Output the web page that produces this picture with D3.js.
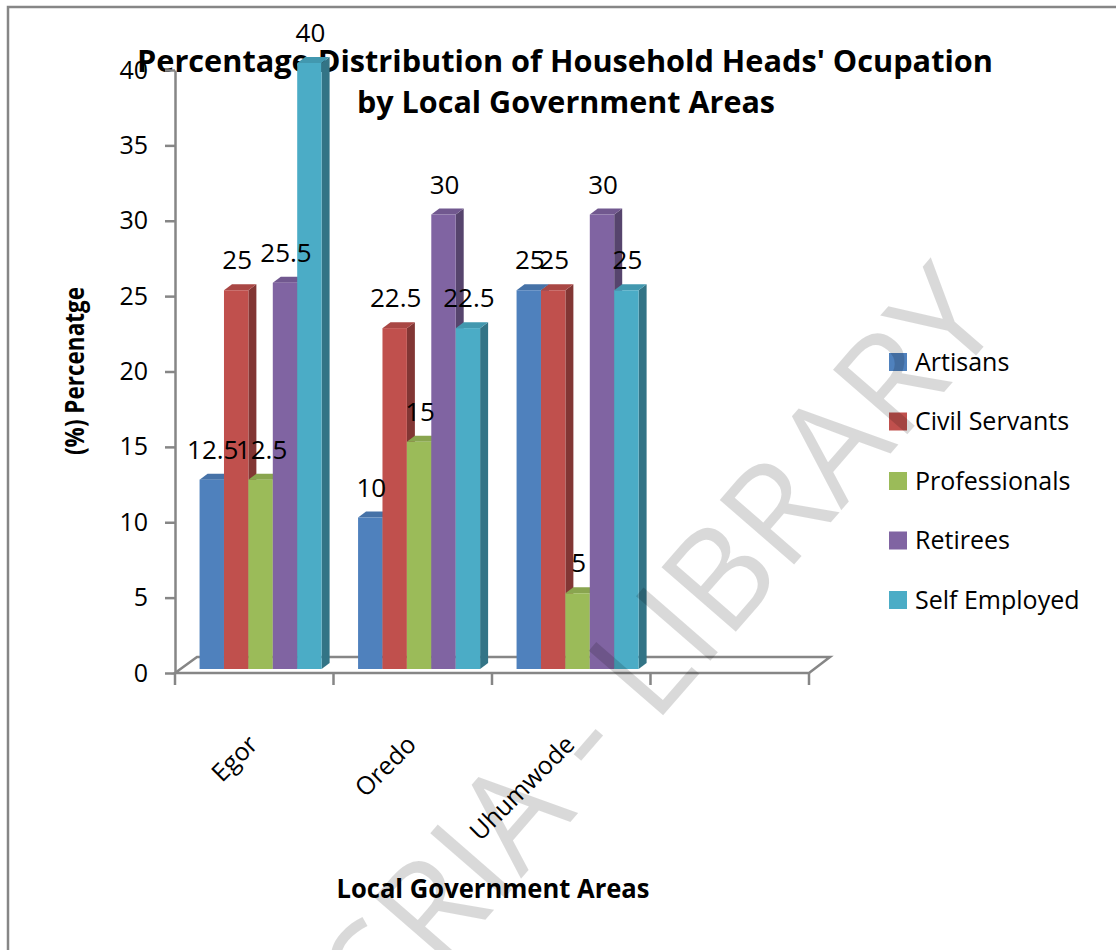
<!DOCTYPE html>
<html>
<head>
<meta charset="utf-8">
<script src="https://cdnjs.cloudflare.com/ajax/libs/d3/7.8.5/d3.min.js"></script>
<style>
  body { margin: 0; background: #fff; }
  svg text { font-family: 'Open Sans', sans-serif; fill: #000; }
</style>
</head>
<body>
<svg id="drawing_region"></svg>
<script>
// data
const categories = ['Egor', 'Oredo', 'Uhumwode'];
const series = ['Artisans', 'Civil Servants', 'Professionals', 'Retirees', 'Self Employed'];
const artisans = [12.5, 10, 25];
const civilServants = [25, 22.5, 25];
const professionals = [12.5, 15, 5];
const retirees = [25.5, 30, 30];
const selfEmployed = [40, 22.5, 25];
const yTicks = [0, 5, 10, 15, 20, 25, 30, 35, 40];

const table = categories.map((c, i) => ({
  category: c,
  values: [artisans[i], civilServants[i], professionals[i], retirees[i], selfEmployed[i]]
}));

class BarChart3D {
  constructor(config, data) {
    this.config = {
      parent: config.parent,
      width: config.width || 1116,
      height: config.height || 950,
      colors: config.colors
    };
    this.data = data;
    this.init();
  }

  init() {
    let self = this;
    self.svg = d3.select(self.config.parent)
      .attr('width', self.config.width)
      .attr('height', self.config.height);

    // 4 slots on the floor, the last one left empty
    self.x = d3.scaleBand().domain([...categories, '']).range([175, 809]);
    self.xs = d3.scaleBand().domain(series)
      .range([self.x.bandwidth() * 0.155, self.x.bandwidth() * 0.925]);
    self.y = d3.scaleLinear().domain([0, 40]).range([673, 70]);
    // bars stand a little behind the front edge of the floor
    self.yBar = self.y.copy().range([669, 63]);
    self.depth = { dx: 8, dy: 6 };
    self.color = d3.scaleOrdinal().domain(series).range(self.config.colors);
  }

  render() {
    let self = this;
    const grey = '#868686';

    // frame
    self.svg.append('rect')
      .attr('x', 8).attr('y', 7)
      .attr('width', 1200).attr('height', 1000)
      .attr('fill', 'none').attr('stroke', grey).attr('stroke-width', 2.5);

    // title
    const title = self.svg.append('g').style('font-weight', 'bold').style('font-size', '30px');
    title.append('text').attr('x', 565).attr('y', 72).attr('text-anchor', 'middle')
      .attr('textLength', 856).attr('lengthAdjust', 'spacingAndGlyphs')
      .text("Percentage Distribution of Household Heads' Ocupation");
    title.append('text').attr('x', 566).attr('y', 113).attr('text-anchor', 'middle')
      .attr('textLength', 418).attr('lengthAdjust', 'spacingAndGlyphs')
      .text('by Local Government Areas');

    // floor
    const x0 = self.x.range()[0], x1 = self.x.range()[1], y0 = self.y(0);
    self.svg.append('path')
      .attr('d', `M${x0},${y0} L${x1},${y0} L${x1 + 21},${y0 - 16} L${x0 + 22},${y0 - 16} Z`)
      .attr('fill', '#fff').attr('stroke', grey).attr('stroke-width', 2.5);

    // x ticks at slot edges
    const edges = self.x.domain().map(d => self.x(d)).concat([x1]);
    self.svg.selectAll('.xtick').data(edges).enter().append('line')
      .attr('x1', d => d).attr('x2', d => d)
      .attr('y1', y0).attr('y2', y0 + 12)
      .attr('stroke', grey).attr('stroke-width', 2.5);

    // y axis
    const yAxis = self.svg.append('g')
      .attr('transform', `translate(${x0},0)`)
      .call(d3.axisLeft(self.y).tickValues(yTicks).tickSize(10).tickSizeOuter(0).tickPadding(17));
    yAxis.select('.domain').attr('stroke', grey).attr('stroke-width', 2.5);
    yAxis.selectAll('.tick line').attr('stroke', grey).attr('stroke-width', 2.5);
    yAxis.selectAll('.tick text')
      .style('font-family', "'Open Sans', sans-serif").style('font-size', '25px').attr('fill', '#000');

    // bars
    const d = self.depth;
    const groups = self.svg.selectAll('.group').data(self.data).enter().append('g')
      .attr('transform', g => `translate(${self.x(g.category)},0)`);

    const bars = groups.selectAll('.bar')
      .data(g => g.values.map((v, i) => ({ name: series[i], value: v })))
      .enter().append('g');

    bars.append('path') // side
      .attr('d', b => {
        const l = self.xs(b.name), r = l + self.xs.bandwidth();
        const t = self.yBar(b.value), bt = self.yBar(0);
        return `M${r},${t} L${r + d.dx},${t - d.dy} L${r + d.dx},${bt - d.dy} L${r},${bt} Z`;
      })
      .attr('fill', b => d3.color(self.color(b.name)).darker(1.1));

    bars.append('path') // top
      .attr('d', b => {
        const l = self.xs(b.name), r = l + self.xs.bandwidth();
        const t = self.yBar(b.value);
        return `M${l},${t} L${r},${t} L${r + d.dx},${t - d.dy} L${l + d.dx},${t - d.dy} Z`;
      })
      .attr('fill', b => d3.color(self.color(b.name)).darker(0.35));

    bars.append('rect') // front
      .attr('x', b => self.xs(b.name))
      .attr('y', b => self.yBar(b.value))
      .attr('width', self.xs.bandwidth())
      .attr('height', b => self.yBar(0) - self.yBar(b.value))
      .attr('fill', b => self.color(b.name));

    // value labels
    groups.selectAll('.label')
      .data(g => g.values.map((v, i) => ({ name: series[i], value: v })))
      .enter().append('text')
      .attr('x', b => self.xs(b.name) + self.xs.bandwidth() / 2 + 1)
      .attr('y', b => self.yBar(b.value) - 21)
      .attr('text-anchor', 'middle')
      .style('font-size', '26px')
      .text(b => b.value);

    // category labels
    self.svg.selectAll('.xlabel').data(categories).enter().append('text')
      .attr('transform', c => `translate(${self.x(c) + self.x.bandwidth() / 2 + 5},746) rotate(-45)`)
      .attr('text-anchor', 'end')
      .style('font-size', '25px')
      .text(c => c);

    // axis titles
    self.svg.append('text')
      .attr('transform', 'translate(84,371) rotate(-90)')
      .attr('text-anchor', 'middle')
      .attr('textLength', 168).attr('lengthAdjust', 'spacingAndGlyphs')
      .style('font-weight', 'bold').style('font-size', '26px')
      .text('(%) Percenatge');
    self.svg.append('text')
      .attr('x', 493).attr('y', 898)
      .attr('text-anchor', 'middle')
      .attr('textLength', 313).attr('lengthAdjust', 'spacingAndGlyphs')
      .style('font-weight', 'bold').style('font-size', '27px')
      .text('Local Government Areas');

    // legend
    const legend = self.svg.selectAll('.legend').data(series).enter().append('g')
      .attr('transform', (s, i) => `translate(889,${362 + i * 59.5})`);
    legend.append('rect')
      .attr('x', 0).attr('y', -9).attr('width', 18).attr('height', 18)
      .attr('fill', s => self.color(s));
    legend.append('text')
      .attr('x', 26).attr('y', 0).attr('dy', '0.35em')
      .style('font-size', '25px')
      .text(s => s);

    // watermark
    self.svg.append('text')
      .attr('transform', 'translate(1005,322) rotate(-49)')
      .attr('text-anchor', 'end')
      .style('font-size', '138px')
      .style('fill', '#000').style('fill-opacity', 0.15)
      .text('CODESRIA - LIBRARY');
  }
}

const chart = new BarChart3D({
  parent: '#drawing_region',
  width: 1116,
  height: 950,
  colors: ['#4F81BD', '#C0504D', '#9BBB59', '#8064A2', '#4BACC6']
}, table);
chart.render();
</script>
</body>
</html>
